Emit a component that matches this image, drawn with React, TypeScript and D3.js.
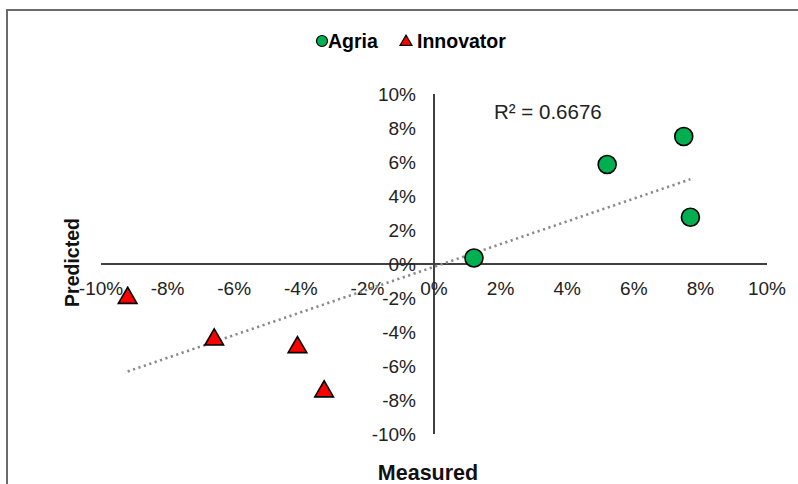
import React from "react";
import * as d3 from "d3";

const W = 798;
const H = 484;

const seriesNames = ["Agria", "Innovator"];
const agriaX = [1.2, 5.2, 7.5, 7.7];
const agriaY = [0.35, 5.85, 7.5, 2.75];
const innovatorX = [-9.2, -6.6, -4.1, -3.3];
const innovatorY = [-2.0, -4.45, -4.9, -7.5];
const xTicks = [-10, -8, -6, -4, -2, 0, 2, 4, 6, 8, 10];
const yTicks = [-10, -8, -6, -4, -2, 0, 2, 4, 6, 8, 10];
const r2Label = "R² = 0.6676";
const xTitle = "Measured";
const yTitle = "Predicted";

const FONT = "'Liberation Sans', Arial, sans-serif";

export default function App() {
  const x = d3.scaleLinear().domain([-10, 10]).range([101, 767]);
  const y = d3.scaleLinear().domain([-10, 10]).range([434, 94]);

  const allX = [...agriaX, ...innovatorX];
  const allY = [...agriaY, ...innovatorY];
  const mx = d3.mean(allX)!;
  const my = d3.mean(allY)!;
  let sxy = 0, sxx = 0;
  allX.forEach((v, i) => {
    sxy += (v - mx) * (allY[i] - my);
    sxx += (v - mx) * (v - mx);
  });
  const slope = sxy / sxx;
  const intercept = my - slope * mx;
  const [xMin, xMax] = d3.extent(allX) as [number, number];
  const trend = d3.line<number>().x((d) => x(d)).y((d) => y(slope * d + intercept));

  const tri = d3.symbol().type(d3.symbolTriangle).size(150)()!;
  const triSmall = d3.symbol().type(d3.symbolTriangle).size(62)()!;

  return (
    <svg width={W} height={H} style={{ position: "absolute", left: 0, top: 0, background: "#fff" }} fontFamily={FONT}>
      <rect x={7} y={10} width={W + 20} height={H + 20} fill="#fff" stroke="#6b6b6b" strokeWidth={2} />

      {/* legend */}
      <circle cx={322} cy={41} r={5.5} fill="#00B050" stroke="#000" strokeWidth={1.2} />
      <text x={328} y={47.5} fontSize={19.5} fontWeight="bold" fill="#000">{seriesNames[0]}</text>
      <path d={triSmall} transform="translate(406,42)" fill="#FF0000" stroke="#000" strokeWidth={1.2} />
      <text x={417} y={47.5} fontSize={19.5} fontWeight="bold" fill="#000">{seriesNames[1]}</text>

      {/* axes */}
      <line x1={x(-10)} x2={x(10)} y1={y(0)} y2={y(0)} stroke="#404040" strokeWidth={2} />
      <line x1={x(0)} x2={x(0)} y1={y(10)} y2={y(-10)} stroke="#404040" strokeWidth={2} />

      {xTicks.map((t) => (
        <text key={"x" + t} x={x(t)} y={y(0) + 31} textAnchor="middle" fontSize={19} fill="#222">
          {t + "%"}
        </text>
      ))}
      {yTicks.map((t) => (
        <text key={"y" + t} x={416} y={y(t) + 6.5} textAnchor="end" fontSize={19} fill="#222">
          {t + "%"}
        </text>
      ))}

      {/* trendline */}
      <path
        d={trend([xMin, xMax])!}
        fill="none"
        stroke="#8a8a8a"
        strokeWidth={2.6}
        strokeDasharray="2.2 3.5"
      />

      {/* points */}
      {agriaX.map((v, i) => (
        <circle key={"a" + i} cx={x(v)} cy={y(agriaY[i])} r={9} fill="#00B050" stroke="#000" strokeWidth={1.6} />
      ))}
      {innovatorX.map((v, i) => (
        <path key={"n" + i} d={tri} transform={`translate(${x(v)},${y(innovatorY[i])})`} fill="#FF0000" stroke="#000" strokeWidth={1.6} />
      ))}

      <text x={494} y={118.5} fontSize={20.5} fill="#222">{r2Label}</text>

      <text x={428} y={480} textAnchor="middle" fontSize={21.5} fontWeight="bold" fill="#111">{xTitle}</text>
      <text transform="translate(79,262.5) rotate(-90)" textAnchor="middle" fontSize={19.5} fontWeight="bold" fill="#111">{yTitle}</text>
    </svg>
  );
}
